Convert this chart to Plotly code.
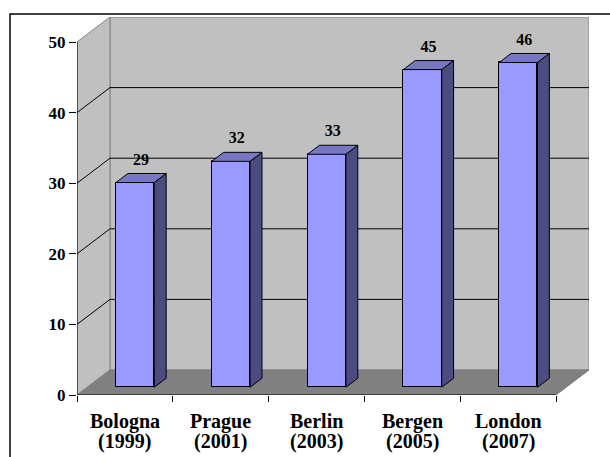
import plotly.graph_objects as go

# ---- data ----
cities = ["Bologna", "Prague", "Berlin", "Bergen", "London"]
years = ["(1999)", "(2001)", "(2003)", "(2005)", "(2007)"]
values = [29, 32, 33, 45, 46]
y_ticks = [0, 10, 20, 30, 40, 50]

# ---- 3D geometry (style constants) ----
W, H = 610, 457
L_PX, R_PX, T_PX, B_PX = 77, 589, 17, 395
SLOT_PX = 95.8
UNIT_PX = 7.06
DX = 33 / SLOT_PX           # depth offset in x-units
DY = 25 / UNIT_PX           # depth offset in y-units
F0 = 0.31                   # bar front position in depth
FD = 0.36                   # bar depth fraction
BW = 0.40                   # bar width (slot units)
LABEL_GAP = 0.7             # extra gap above bar for value labels (y-units)
YMAX = y_ticks[-1]
n = len(values)
X0, X1 = -0.5, n - 0.5

FONT = "Liberation Serif"
FRONT = "#9999FF"
SIDE = "#4C4C80"
TOP = "#7777C4"
WALL = "#C0C0C0"
FLOOR = "#808080"
EDGE = "#808080"

fig = go.Figure()

# bars: front faces
fx = [i + F0 * DX for i in range(n)]
fig.add_trace(go.Bar(
    x=fx, y=values, base=[F0 * DY] * n, width=BW,
    marker=dict(color=FRONT, line=dict(color="black", width=1)),
    hoverinfo="skip", showlegend=False))

# side and top faces
for i, v in enumerate(values):
    xl = fx[i] - BW / 2
    xr = fx[i] + BW / 2
    yb = F0 * DY
    yt = F0 * DY + v
    ddx, ddy = FD * DX, FD * DY
    fig.add_trace(go.Scatter(
        x=[xr, xr + ddx, xr + ddx, xr, xr],
        y=[yb, yb + ddy, yt + ddy, yt, yb],
        fill="toself", fillcolor=SIDE, mode="lines",
        line=dict(color="black", width=1), hoverinfo="skip", showlegend=False))
    fig.add_trace(go.Scatter(
        x=[xl, xr, xr + ddx, xl + ddx, xl],
        y=[yt, yt, yt + ddy, yt + ddy, yt],
        fill="toself", fillcolor=TOP, mode="lines",
        line=dict(color="black", width=1), hoverinfo="skip", showlegend=False))

# data labels
fig.add_trace(go.Scatter(
    x=[fx[i] + FD * DX / 2 for i in range(n)],
    y=[v + (F0 + FD) * DY + LABEL_GAP for v in values],
    mode="text", text=[str(v) for v in values], textposition="top center",
    textfont=dict(family=FONT, size=16, color="black", weight="bold"),
    hoverinfo="skip", showlegend=False, cliponaxis=False))

shapes = []
# back wall
shapes.append(dict(type="path", xref="x", yref="y", layer="below",
                   path=f"M{X0+DX},{DY} L{X1+DX},{DY} L{X1+DX},{YMAX+DY} L{X0+DX},{YMAX+DY} Z",
                   fillcolor=WALL, line=dict(color=EDGE, width=1)))
# side wall
shapes.append(dict(type="path", xref="x", yref="y", layer="below",
                   path=f"M{X0},0 L{X0+DX},{DY} L{X0+DX},{YMAX+DY} L{X0},{YMAX} Z",
                   fillcolor=WALL, line=dict(color=EDGE, width=1)))
# floor
shapes.append(dict(type="path", xref="x", yref="y", layer="below",
                   path=f"M{X0},0 L{X1},0 L{X1+DX},{DY} L{X0+DX},{DY} Z",
                   fillcolor=FLOOR, line=dict(color=EDGE, width=1)))
# gridlines
for t in y_ticks[1:-1]:
    shapes.append(dict(type="line", xref="x", yref="y", layer="below",
                       x0=X0 + DX, y0=t + DY, x1=X1 + DX, y1=t + DY,
                       line=dict(color="black", width=1)))
    shapes.append(dict(type="line", xref="x", yref="y", layer="below",
                       x0=X0, y0=t, x1=X0 + DX, y1=t + DY,
                       line=dict(color="black", width=1)))
# front axes
shapes.append(dict(type="line", xref="x", yref="y", layer="above",
                   x0=X0, y0=0, x1=X0, y1=YMAX, line=dict(color="black", width=1)))
shapes.append(dict(type="line", xref="x", yref="y", layer="above",
                   x0=X0, y0=0, x1=X1, y1=0, line=dict(color="black", width=1)))
# outer border (chart area frame, clipped by window)
pw = R_PX - L_PX
ph = B_PX - T_PX
shapes.append(dict(type="rect", xref="paper", yref="paper", layer="above",
                   x0=(10 - L_PX) / pw, x1=(640 - L_PX) / pw,
                   y0=(B_PX - 480) / ph, y1=(B_PX - 14) / ph,
                   line=dict(color="black", width=1.5), fillcolor="rgba(0,0,0,0)"))

annotations = []
for i in range(n):
    annotations.append(dict(x=i, y=0, xref="x", yref="y", text=cities[i],
                            showarrow=False, yanchor="top", yshift=-13,
                            font=dict(family=FONT, size=20, color="black", weight="bold")))
    annotations.append(dict(x=i, y=0, xref="x", yref="y", text=years[i],
                            showarrow=False, yanchor="top", yshift=-33,
                            font=dict(family=FONT, size=20, color="black", weight="bold")))

fig.update_layout(
    width=W, height=H,
    margin=dict(l=L_PX, r=W - R_PX, t=T_PX, b=H - B_PX, autoexpand=False),
    paper_bgcolor="white", plot_bgcolor="rgba(0,0,0,0)",
    shapes=shapes, annotations=annotations, showlegend=False,
    xaxis=dict(range=[X0, X1 + DX], tickvals=[X0 + k for k in range(n + 1)],
               ticktext=[""] * (n + 1), ticks="outside", ticklen=6, tickcolor="black",
               showgrid=False, zeroline=False, showline=False, fixedrange=True),
    yaxis=dict(range=[0, YMAX + DY], tickvals=y_ticks, ticks="outside", ticklen=7,
               tickcolor="black", showgrid=False, zeroline=False, showline=False,
               tickfont=dict(family=FONT, size=17, color="black", weight="bold"),
               fixedrange=True),
    bargap=0,
)

fig.write_html("out.html", config={"displayModeBar": False})
